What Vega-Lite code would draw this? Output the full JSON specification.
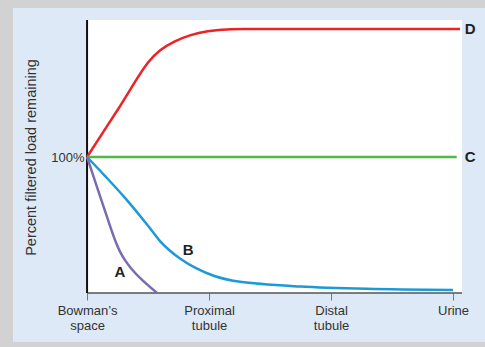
{
  "$schema": "https://vega.github.io/schema/vega-lite/v6.json",
  "width": 472,
  "height": 334,
  "autosize": {"type": "none"},
  "padding": {"left": 13, "top": 8, "right": 0, "bottom": 5},
  "background": "#d2d2d2",
  "config": {
    "view": {"fill": "#dde9f6", "stroke": null},
    "font": "Liberation Sans"
  },
  "datasets": {
    "plot": [{"x": 0, "x2": 3.074, "y": 0, "y2": 200.7}],
    "curves": [
      {"s": "D", "x": 0, "y": 100},
      {"s": "D", "x": 0.258, "y": 135.7},
      {"s": "D", "x": 0.5, "y": 169.5},
      {"s": "D", "x": 0.6, "y": 178.5},
      {"s": "D", "x": 0.72, "y": 185.0},
      {"s": "D", "x": 0.85, "y": 189.6},
      {"s": "D", "x": 0.99, "y": 192.4},
      {"s": "D", "x": 1.15, "y": 193.8},
      {"s": "D", "x": 1.35, "y": 194.1},
      {"s": "D", "x": 3.057, "y": 194.1},
      {"s": "C", "x": 0, "y": 100},
      {"s": "C", "x": 3.03, "y": 100},
      {"s": "B", "x": 0, "y": 100},
      {"s": "B", "x": 0.148, "y": 86.0},
      {"s": "B", "x": 0.311, "y": 69.9},
      {"s": "B", "x": 0.475, "y": 52.2},
      {"s": "B", "x": 0.533, "y": 45.6},
      {"s": "B", "x": 0.598, "y": 38.2},
      {"s": "B", "x": 0.68, "y": 31.1},
      {"s": "B", "x": 0.762, "y": 25.4},
      {"s": "B", "x": 0.885, "y": 18.6},
      {"s": "B", "x": 1.049, "y": 12.3},
      {"s": "B", "x": 1.254, "y": 8.2},
      {"s": "B", "x": 1.746, "y": 4.8},
      {"s": "B", "x": 2.295, "y": 3.1},
      {"s": "B", "x": 3.0, "y": 2.2},
      {"s": "A", "x": 0, "y": 100},
      {"s": "A", "x": 0.09, "y": 75.7},
      {"s": "A", "x": 0.172, "y": 53.7},
      {"s": "A", "x": 0.205, "y": 44.9},
      {"s": "A", "x": 0.238, "y": 36.9},
      {"s": "A", "x": 0.27, "y": 30.4},
      {"s": "A", "x": 0.311, "y": 24.2},
      {"s": "A", "x": 0.369, "y": 17.3},
      {"s": "A", "x": 0.451, "y": 9.6},
      {"s": "A", "x": 0.574, "y": 0}
    ],
    "labels": [
      {"t": "D", "x": 3.14, "y": 193.9},
      {"t": "C", "x": 3.14, "y": 100},
      {"t": "B", "x": 0.828, "y": 31.6},
      {"t": "A", "x": 0.27, "y": 15.4}
    ]
  },
  "layer": [
    {
      "data": {"name": "plot"},
      "mark": {"type": "rect", "fill": "white"},
      "encoding": {
        "x": {
          "field": "x", "type": "quantitative",
          "scale": {"domain": [-0.607, 3.262], "nice": false, "zero": false},
          "axis": {
            "values": [0, 1, 2, 3],
            "offset": -49,
            "domain": false,
            "grid": false,
            "tickSize": 7,
            "tickColor": "#777777",
            "tickWidth": 1,
            "labelExpr": "datum.value == 0 ? ['Bowman\u2019s', 'space'] : datum.value == 1 ? ['Proximal', 'tubule'] : datum.value == 2 ? ['Distal', 'tubule'] : 'Urine'",
            "labelFontSize": 13,
            "labelColor": "#333333",
            "labelPadding": 4,
            "labelLineHeight": 15,
            "labelFlush": false,
            "labelOverlap": false,
            "title": null
          }
        },
        "x2": {"field": "x2"},
        "y": {
          "field": "y", "type": "quantitative",
          "scale": {"domain": [-36.03, 209.56], "nice": false, "zero": false},
          "axis": {
            "values": [100],
            "labelExpr": "'100%'",
            "offset": -74,
            "domain": false,
            "grid": false,
            "ticks": false,
            "labelPadding": 3,
            "labelFontSize": 13,
            "labelColor": "#333333",
            "title": "Percent filtered load remaining",
            "titleFontSize": 14.5,
            "titleFontWeight": "normal",
            "titleColor": "#333333",
            "titlePadding": 12,
            "titleY": 149
          }
        },
        "y2": {"field": "y2"}
      }
    },
    {
      "data": {"name": "plot"},
      "mark": {"type": "rule", "color": "#555555", "strokeWidth": 1.5},
      "encoding": {
        "x": {"field": "x", "type": "quantitative"},
        "x2": {"field": "x2"},
        "y": {"field": "y", "type": "quantitative"}
      }
    },
    {
      "data": {"name": "plot"},
      "mark": {"type": "rule", "color": "#111111", "strokeWidth": 2},
      "encoding": {
        "x": {"field": "x", "type": "quantitative"},
        "y": {"field": "y", "type": "quantitative"},
        "y2": {"field": "y2"}
      }
    },
    {
      "data": {"name": "curves"},
      "mark": {"type": "line", "interpolate": "catmull-rom", "strokeWidth": 2.5},
      "encoding": {
        "x": {"field": "x", "type": "quantitative"},
        "y": {"field": "y", "type": "quantitative"},
        "color": {
          "field": "s", "type": "nominal",
          "scale": {"domain": ["A", "B", "C", "D"], "range": ["#7b6bb2", "#1b9ad7", "#52b848", "#ed2227"]},
          "legend": null
        }
      }
    },
    {
      "data": {"name": "labels"},
      "mark": {"type": "text", "fontWeight": "bold", "fontSize": 15, "color": "#222222", "align": "center", "baseline": "middle"},
      "encoding": {
        "x": {"field": "x", "type": "quantitative"},
        "y": {"field": "y", "type": "quantitative"},
        "text": {"field": "t"}
      }
    }
  ]
}
